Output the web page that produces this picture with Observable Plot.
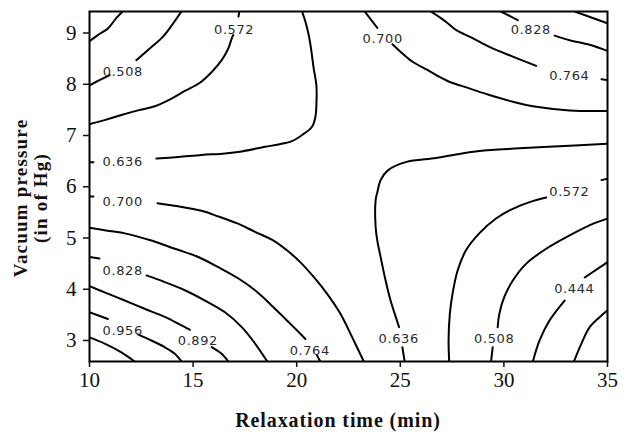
<!DOCTYPE html>
<html><head><meta charset="utf-8">
<script src="https://cdn.jsdelivr.net/npm/d3@7"></script>
<script src="https://cdn.jsdelivr.net/npm/@observablehq/plot@0.6"></script>
<style>
html,body{margin:0;padding:0;background:#fff;}
#chart{width:624px;height:434px;}
</style></head><body><div id="chart"></div>
<script>
// axis ticks and titles
const xTicks = [10, 15, 20, 25, 30, 35];
const yTicks = [3, 4, 5, 6, 7, 8, 9];
const xTitle = "Relaxation time (min)";
const yTitle = ["Vacuum pressure", "(in of Hg)"];

// contour lines: [relaxation time, vacuum pressure]
// each level has one or more pieces (lines are broken where a label sits)
const c0380 = [
  [[35,3.59],[34.63,3.46],[34.14,3.26],[33.74,2.94],[33.38,2.59]]
];
const c0444 = [
  [[10,8.84],[10.4,8.96],[10.89,9.09],[11.29,9.29],[11.6,9.42]],
  [[35,4.53],[33.9,4.23]],
  [[32.93,3.78],[32.2,3.39],[31.72,3.0],[31.4,2.59]]
];
const c0508 = [
  [[10,7.98],[10.48,8.08],[10.97,8.18]],
  [[12.26,8.47],[12.91,8.70],[13.55,8.93],[14.04,9.19],[14.44,9.42]],
  [[35,5.38],[34.31,5.28],[33.17,5.05],[32.04,4.79],[31.08,4.50],[30.43,4.17],[30.02,3.85],[29.78,3.52],[29.7,3.26]],
  [[29.46,2.87],[29.38,2.59]]
];
const c0572 = [
  [[10,7.22],[10.73,7.30],[11.54,7.40],[12.34,7.49],[13.15,7.57],[13.96,7.72],[14.6,7.87],[15.33,8.03],[15.9,8.24],[16.38,8.47],[16.7,8.70],[16.87,8.90],[16.94,8.96]],
  [[17.19,9.32],[17.23,9.42]],
  [[27.36,2.59],[27.33,3.0],[27.39,3.52],[27.52,3.91],[27.77,4.37],[28.17,4.76],[28.81,5.09],[29.62,5.38],[30.43,5.57],[31.24,5.70],[32.04,5.79]],
  [[34.71,6.13],[35,6.16]]
];
const c0636 = [
  [[10,6.48],[10.19,6.48]],
  [[13.23,6.55],[14.28,6.58],[15.41,6.62],[16.54,6.65],[17.35,6.69],[18.48,6.78],[19.05,6.82],[19.77,6.89],[20.26,7.01],[20.74,7.17],[20.9,7.36],[20.95,7.59],[20.95,7.98],[20.82,8.31],[20.69,8.70],[20.58,8.96],[20.42,9.22],[20.26,9.42]],
  [[35,6.84],[33.17,6.80],[30.75,6.75],[28.81,6.70],[27.68,6.63],[26.72,6.56],[25.26,6.48],[24.4,6.32],[24.05,6.13],[23.89,5.89],[23.81,5.74],[23.81,5.21],[23.89,4.95],[24.05,4.63],[24.29,4.17],[24.53,3.78],[24.78,3.46],[24.94,3.26]],
  [[25.10,2.87],[25.21,2.59]]
];
const c0700 = [
  [[23.28,9.42],[23.89,9.10]],
  [[24.62,8.78],[25.02,8.63],[25.59,8.44],[26.31,8.28],[26.96,8.13],[27.36,8.05],[28.33,7.92],[29.30,7.79],[30.43,7.66],[31.56,7.56],[33.17,7.49],[35,7.48]],
  [[10,5.81],[10.19,5.81]],
  [[13.28,5.68],[14.28,5.62],[15.41,5.53],[16.22,5.42],[17.11,5.29],[17.99,5.12],[18.88,4.95],[19.53,4.76],[20.17,4.53],[20.82,4.24],[21.47,3.91],[22.11,3.52],[22.68,3.06],[23.24,2.59]]
];
const c0764 = [
  [[26.47,9.42],[26.96,9.29],[27.20,9.22],[27.68,9.06],[28.49,8.90],[29.30,8.73],[30.43,8.54],[31.56,8.36]],
  [[34.71,8.10],[35,8.08]],
  [[10,5.20],[10.73,5.15],[11.70,5.09],[12.99,4.95],[14.12,4.79],[15.25,4.63],[16.22,4.43],[17.19,4.21],[17.99,3.98],[18.88,3.65],[19.53,3.39],[20.01,3.20],[20.42,3.03]],
  [[20.98,2.71],[21.14,2.59]]
];
const c0828 = [
  [[29.86,9.42],[30.67,9.25]],
  [[32.45,8.95],[33.17,8.86],[34.14,8.77],[35,8.65]],
  [[10,4.63],[10.48,4.60]],
  [[12.75,4.27],[13.63,4.14],[14.60,3.98],[15.57,3.78],[16.54,3.55],[17.35,3.26],[17.99,2.94],[18.58,2.59]]
];
const c0892 = [
  [[33.42,9.42],[35,9.19]],
  [[10,4.06],[10.73,3.94],[11.70,3.78],[12.66,3.62],[13.63,3.46],[14.28,3.33],[14.84,3.21]],
  [[15.90,2.87],[16.38,2.74],[16.70,2.59]]
];
const c0956 = [
  [[10,3.55],[10.89,3.42]],
  [[12.34,3.12],[12.99,3.0],[13.63,2.87],[14.12,2.74],[14.44,2.59]]
];
const c1020 = [
  [[10,3.06],[10.73,2.94],[11.54,2.77],[12.18,2.59]]
];

// contour labels
const labelText = ["0.508","0.572","0.636","0.700","0.700","0.828","0.764","0.572","0.828","0.956","0.892","0.764","0.636","0.508","0.444"];
const labelX    = [11.61, 16.98, 11.60, 24.15, 11.60, 31.30, 33.16, 33.16, 11.60, 11.60, 15.23, 20.63, 24.92, 29.53, 33.40];
const labelY    = [8.25,  9.07,  6.48,  8.89,  5.70,  9.06,  8.16,  5.90,  4.35,  3.19,  3.00,  2.80,  3.03,  3.03,  4.00];

// build tables
const pieces = [c0380, c0444, c0508, c0572, c0636, c0700, c0764, c0828, c0892, c0956, c1020];
const rows = [];
pieces.forEach((lvl, i) => lvl.forEach((seg, j) => seg.forEach(([x, y]) => rows.push({x, y, seg: i + "-" + j}))));
const labels = labelText.map((t, i) => ({t, x: labelX[i], y: labelY[i]}));

const chart = Plot.plot({
  width: 624, height: 434,
  marginLeft: 89, marginRight: 17, marginTop: 11, marginBottom: 73,
  x: {domain: [10, 35]},
  y: {domain: [2.59, 9.42]},
  style: {fontFamily: "'Liberation Serif', 'Times New Roman', serif", background: "#fff", color: "#111"},
  marks: [
    Plot.line(rows, {x: "x", y: "y", z: "seg", stroke: "#000", strokeWidth: 2, curve: "catmull-rom", clip: true}),
    Plot.text(labels, {x: "x", y: "y", text: "t", fontFamily: "'DejaVu Sans', sans-serif", fontSize: 13, fill: "#2b2b2b", textAnchor: "middle", lineAnchor: "middle"}),
    Plot.frame({stroke: "#000", strokeWidth: 2}),
    Plot.axisX({ticks: xTicks, tickFormat: d => String(d), tickSize: 6, tickPadding: 5, fontSize: 21, label: null, strokeWidth: 1.5}),
    Plot.axisY({ticks: yTicks, tickFormat: d => String(d), tickSize: 6, tickPadding: 7, fontSize: 21, label: null, strokeWidth: 1.5})
  ]
});
document.getElementById("chart").appendChild(chart);

const svg = d3.select(chart);
svg.selectAll('g[aria-label="text"] text').style("letter-spacing", "0.6px");
svg.append("text")
  .attr("x", 338).attr("y", 427)
  .attr("text-anchor", "middle")
  .attr("font-family", "'Liberation Serif', 'Times New Roman', serif")
  .attr("font-weight", "bold").attr("font-size", 20)
  .style("letter-spacing", "0.9px").attr("fill", "#111")
  .text(xTitle);
[[26.5, yTitle[0]], [46.5, yTitle[1]]].forEach(([bx, t]) => {
  svg.append("text")
    .attr("transform", `translate(${bx},198) rotate(-90)`)
    .attr("text-anchor", "middle")
    .attr("font-family", "'Liberation Serif', 'Times New Roman', serif")
    .attr("font-weight", "bold").attr("font-size", 19)
    .style("letter-spacing", "1.2px").attr("fill", "#111")
    .text(t);
});
</script>
</body></html>
